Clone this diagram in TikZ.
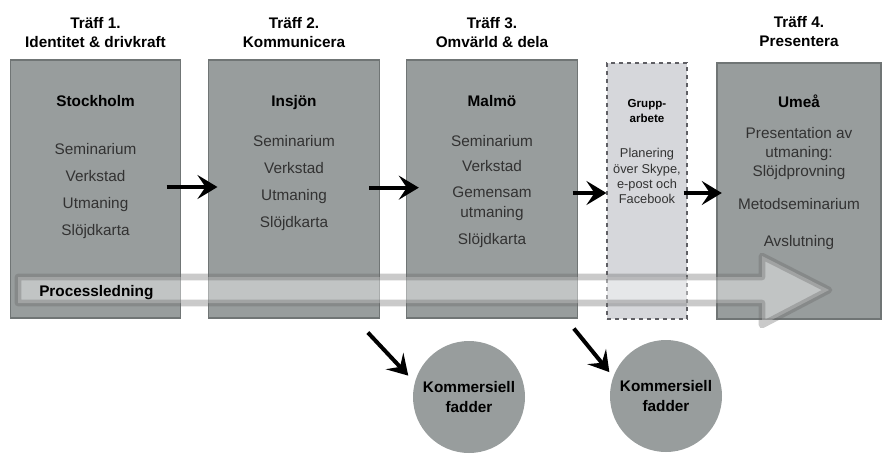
\documentclass[tikz,border=0pt]{standalone}
\usepackage{fontspec}
\setmainfont{Liberation Sans}
\usepackage{tikz}
\usetikzlibrary{arrows.meta, positioning}

\definecolor{boxgray}{RGB}{152,157,157}
\definecolor{boxedge}{RGB}{112,117,117}
\definecolor{itemgray}{RGB}{50,50,50}
\definecolor{groupfill}{RGB}{214,215,219}
\definecolor{groupedge}{RGB}{95,95,100}

\tikzstyle{meeting} = [rectangle, draw=boxedge, fill=boxgray, line width=0.8pt, minimum width=128pt, minimum height=193.5pt, inner sep=0pt]
\tikzstyle{groupwork} = [rectangle, draw=groupedge, fill=groupfill, dashed, line width=0.8pt, minimum width=60pt, minimum height=192pt, inner sep=0pt]
\tikzstyle{sponsor} = [circle, fill=boxgray, minimum size=84pt, inner sep=0pt, align=center, font=\fontsize{11.5}{15}\selectfont\bfseries]
\tikzstyle{heading} = [align=center, inner sep=0pt, font=\fontsize{11.5}{14.25}\selectfont\bfseries]
\tikzstyle{place} = [anchor=base, inner sep=0pt, font=\fontsize{11.5}{14}\selectfont\bfseries]
\tikzstyle{item} = [anchor=base, inner sep=0pt, text=itemgray, font=\fontsize{11.5}{14}\selectfont]
\tikzstyle{smallplace} = [anchor=base, inner sep=0pt, font=\fontsize{8.7}{10}\selectfont\bfseries]
\tikzstyle{smallitem} = [anchor=base, inner sep=0pt, text=itemgray, font=\fontsize{9.6}{11}\selectfont]
\tikzstyle{arrow} = [-{Stealth[length=15pt, width=18pt, inset=6pt]}, line width=3pt, draw=black]
\tikzstyle{process} = [draw=gray!80!black, draw opacity=0.35, fill=white, fill opacity=0.4, line width=5pt, line join=round]

\begin{document}
\begin{tikzpicture}[x=0.75pt, y=-0.75pt]
    \useasboundingbox (0,0) rectangle (883,458);

    % === The four meetings and the group work ===
    \node[meeting] (s1) at (95.5,189) {};
    \node[meeting] (s2) at (294,189) {};
    \node[meeting] (s3) at (492,189) {};
    \node[groupwork] (grp) at (647,191) {};
    \node[meeting, minimum width=123pt, minimum height=192pt] (s4) at (799,191) {};

    % === Headings above the boxes ===
    \node[heading, above=9pt of s1] (h1) {Träff 1.\\Identitet \& drivkraft};
    \node[heading, above=9pt of s2] (h2) {Träff 2.\\Kommunicera};
    \node[heading, above=9pt of s3] (h3) {Träff 3.\\Omvärld \& dela};
    \node[heading, above=12pt of s4] (h4) {Träff 4.\\Presentera};

    % === Box contents ===
    \node[place] (p1) at (95.5,106) {Stockholm};
    \foreach \txt [count=\i] in {Seminarium, Verkstad, Utmaning, Slöjdkarta}
        \node[item] (s1-\i) at (95.5,127+27*\i) {\txt};

    \node[place] (p2) at (294,106) {Insjön};
    \foreach \txt [count=\i] in {Seminarium, Verkstad, Utmaning, Slöjdkarta}
        \node[item] (s2-\i) at (294,119+27*\i) {\txt};

    \node[place] (p3) at (492,106) {Malmö};
    \foreach \txt/\y [count=\i] in {Seminarium/146, Verkstad/171, Gemensam/197, utmaning/217, Slöjdkarta/244}
        \node[item] (s3-\i) at (492,\y) {\txt};

    \node[smallplace] (pg1) at (647,107) {Grupp-};
    \node[smallplace] (pg2) at (647,122) {arbete};
    \foreach \txt/\y [count=\i] in {Planering/157, {över Skype,}/173, e-post och/188, Facebook/203}
        \node[smallitem] (g-\i) at (647,\y) {\txt};

    \node[place] (p4) at (799,107) {Umeå};
    \foreach \txt/\y [count=\i] in {Presentation av/138, utmaning:/157, Slöjdprovning/176, Metodseminarium/209, Avslutning/246}
        \node[item] (s4-\i) at (799,\y) {\txt};

    % === Process band across all meetings ===
    \draw[process] (18,277) -- (762,277) -- (762,256) -- (829,290) -- (762,325) -- (762,303) -- (18,303) -- cycle;
    \node[place, anchor=base west] (proc) at (39,296) {Processledning};

    % === Commercial sponsors ===
    \node[sponsor] (f1) at (469,397) {Kommersiell\\fadder};
    \node[sponsor] (f2) at (666,396) {Kommersiell\\fadder};

    % ===== ARROWS =====
    \draw[arrow] ([xshift=-11pt, yshift=1.5pt]s1.east) -- ([xshift=7pt, yshift=1.5pt]s2.west);
    \draw[arrow] ([xshift=-8pt, yshift=1pt]s2.east) -- ([xshift=9.5pt, yshift=1pt]s3.west);
    \draw[arrow] ([xshift=-4pt, yshift=-3pt]s3.east) -- ([yshift=-1.5pt]grp.west);
    \draw[arrow] ([xshift=-3pt, yshift=-1.5pt]grp.east) -- ([xshift=4pt, yshift=-1.5pt]s4.west);

    % Sponsors get involved after meeting 2 and 3
    \draw[arrow, shorten >=7pt] ([xshift=-9pt, yshift=-10.5pt]s2.south east) -- (f1.165);
    \draw[arrow, shorten >=4.5pt] ([xshift=-3pt, yshift=-7.5pt]s3.south east) -- (f2.160);
\end{tikzpicture}
\end{document}
